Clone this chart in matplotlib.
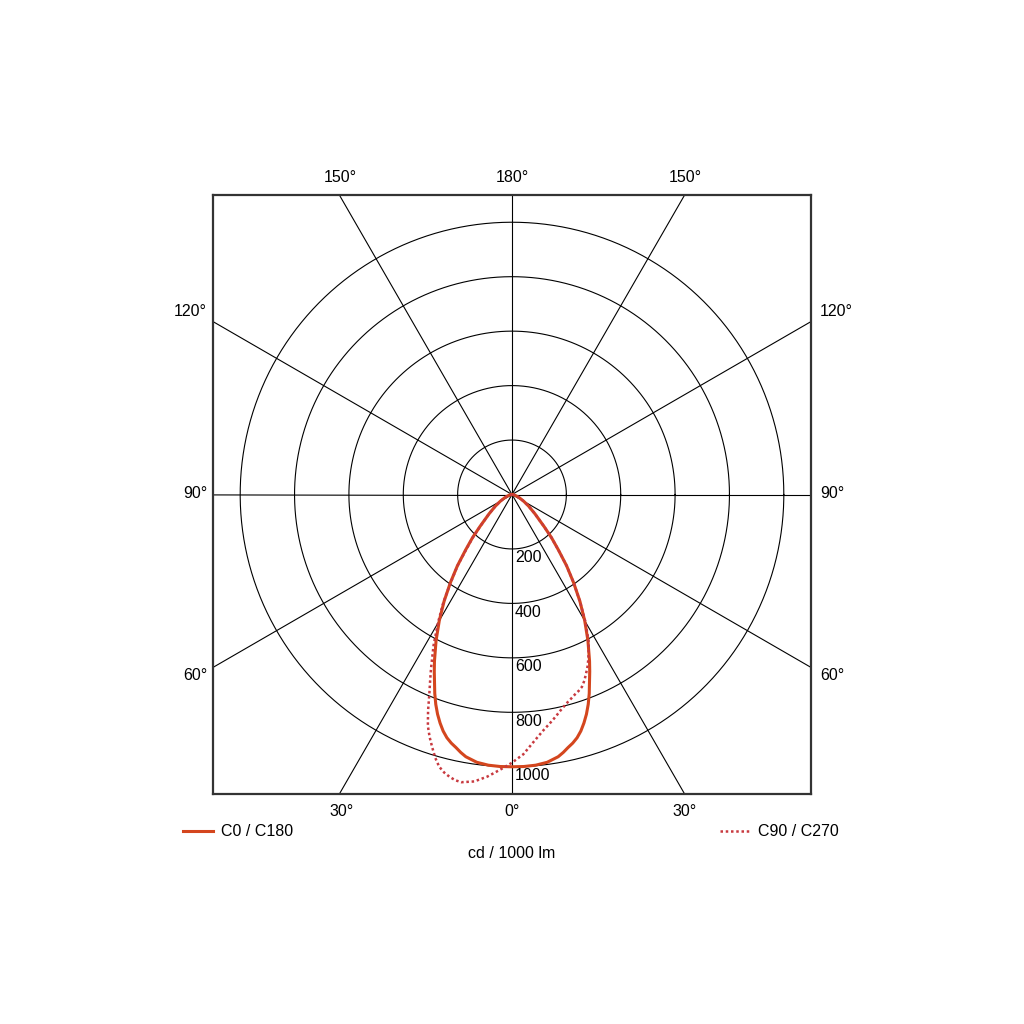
import numpy as np
import matplotlib
matplotlib.use("Agg")
import matplotlib.pyplot as plt
from matplotlib.lines import Line2D

plt.rcParams['font.family'] = ['Liberation Sans', 'DejaVu Sans']

# gamma angles (deg) and intensity in cd / 1000 lm
gamma = [0, 2.5, 5, 7.5, 10, 11.25, 12.5, 13.75, 15, 16.25, 17.5, 18.75, 20,
         21.25, 22.5, 23.75, 25, 27.5, 30, 32.5, 35, 37.5, 40, 42.5, 45,
         50, 55, 60, 65, 70, 75, 80, 85, 90]
c0 = [1000, 1000, 998, 992, 978, 966, 952, 940, 925, 905, 880, 852, 820,
      784, 745, 710, 675, 605, 535, 465, 395, 330, 265, 215, 168,
      110, 75, 50, 32, 20, 12, 6, 2, 0]
c180 = c0
c90 = [985, 955, 912, 875, 845, 830, 815, 802, 790, 780, 770, 762, 752,
       734, 712, 690, 665, 612, 540, 465, 395, 330, 265, 215, 168,
       110, 75, 50, 32, 20, 12, 6, 2, 0]
c270 = [985, 1012, 1040, 1063, 1073, 1070, 1062, 1051, 1035, 1008, 975, 942, 905,
        852, 795, 748, 705, 625, 545, 470, 392, 328, 260, 212, 166,
        110, 75, 50, 32, 20, 12, 6, 2, 0]

rings = [200, 400, 600, 800, 1000]
spoke_angles = list(range(0, 360, 30))

solid_col = '#d4461e'
dot_col = '#c8393f'

fig = plt.figure(figsize=(10.24, 10.24), dpi=100)
ax = fig.add_axes([213/1024, 230/1024, 598/1024, 599/1024])
ax.set_xlim(-1100, 1100)
ax.set_ylim(-1100, 1100)
ax.set_xticks([])
ax.set_yticks([])
for s in ax.spines.values():
    s.set_linewidth(1.6)
    s.set_color('#333333')

# grid
t = np.linspace(0, 2*np.pi, 400)
for r in rings:
    ax.plot(r*np.cos(t), r*np.sin(t), color='black', lw=0.8)
for a in spoke_angles:
    ar = np.radians(a)
    ax.plot([0, 2000*np.sin(ar)], [0, -2000*np.cos(ar)], color='black', lw=0.8)
for r in rings:
    ax.text(11, -(r + 33), str(r), fontsize=11.5, ha='left', va='center')


def curve(right, left):
    g = np.radians(np.array(gamma))
    gg = np.concatenate([-g[::-1], g[1:]])
    ii = np.concatenate([np.array(left)[::-1], np.array(right)[1:]])
    return ii*np.sin(gg), -ii*np.cos(gg)


x1, y1 = curve(c0, c180)
ax.plot(x1, y1, color=solid_col, lw=2.2, solid_joinstyle='round')
x2, y2 = curve(c90, c270)
ax.plot(x2, y2, color=dot_col, lw=1.8, linestyle=(0, (1, 1.1)))


def ftext(px, py, s, ha='center'):
    fig.text(px/1024, 1 - py/1024, s, fontsize=11.5, ha=ha, va='center')


ftext(340, 177, '150°')
ftext(512, 177, '180°')
ftext(685, 177, '150°')
ftext(207, 312, '120°', ha='right')
ftext(207, 494, '90°', ha='right')
ftext(207, 676, '60°', ha='right')
ftext(820, 312, '120°', ha='left')
ftext(820, 494, '90°', ha='left')
ftext(820, 676, '60°', ha='left')
ftext(342, 811, '30°')
ftext(512, 811, '0°')
ftext(685, 811, '30°')

fig.add_artist(Line2D([183/1024, 213/1024], [1 - 831/1024]*2, color=solid_col, lw=2.2))
ftext(221, 831, 'C0 / C180', ha='left')
fig.add_artist(Line2D([720/1024, 750/1024], [1 - 831/1024]*2, color=dot_col, lw=1.8,
                      linestyle=(0, (1, 1.1))))
ftext(758, 831, 'C90 / C270', ha='left')
ftext(512, 853, 'cd / 1000 lm')

fig.savefig('out.png', dpi=100)
